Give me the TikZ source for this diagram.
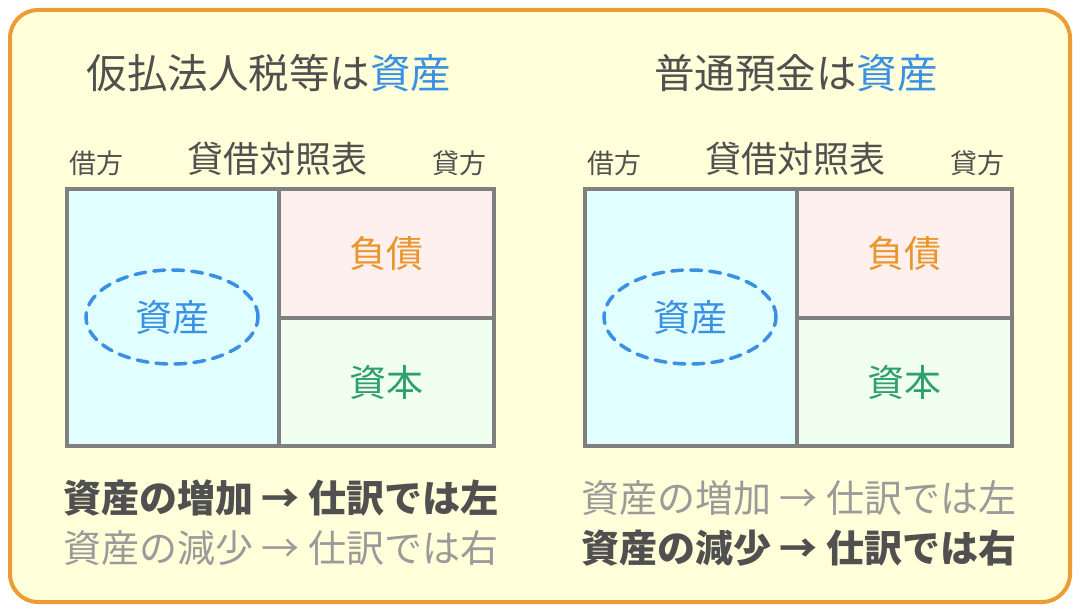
\documentclass[tikz,border=0pt]{standalone}
\usepackage{fontspec}
\setmainfont{Noto Sans CJK JP}
\usetikzlibrary{shapes.geometric, positioning}
\definecolor{ink}{HTML}{505050}
\definecolor{faint}{HTML}{9A9A9A}
\definecolor{asset}{HTML}{3A90E4}
\definecolor{debt}{HTML}{E9962C}
\definecolor{capital}{HTML}{2EA06C}
\definecolor{frameline}{HTML}{EB9D34}
\definecolor{framefill}{HTML}{FFFFD9}
\definecolor{cellblue}{HTML}{E2FFFF}
\definecolor{cellpink}{HTML}{FFF0F0}
\definecolor{cellgreen}{HTML}{F0FFF0}

\begin{document}
\begin{tikzpicture}[x=1pt, y=-1pt,
      title/.style={text=ink, inner sep=0pt, font=\fontsize{40.5}{46}\selectfont},
      head/.style={text=ink, inner sep=0pt, font=\fontsize{36}{42}\selectfont},
      side/.style={text=ink, inner sep=0pt, font=\fontsize{27}{31}\selectfont},
      cell/.style={draw=gray, line width=4pt, anchor=north west, inner sep=0pt,
                   font=\fontsize{37}{42}\selectfont},
      ring/.style={draw=asset, ellipse, dash pattern=on 11pt off 8pt, line cap=round,
                   line width=3.5pt, minimum width=172pt, minimum height=94pt, inner sep=0pt,
                   text=asset, font=\fontsize{37}{42}\selectfont},
      rule/.style={anchor=west, inner sep=0pt, font=\fontsize{38}{44}\selectfont},
      on/.style={rule, text=ink, font=\fontsize{38}{44}\selectfont\bfseries},
      off/.style={rule, text=faint}]
    \useasboundingbox (0,0) rectangle (1080,612);
    \draw[frameline, fill=framefill, line width=4pt, rounded corners=28pt] (10,10) rectangle (1070,602);

    % left: tax prepayment
    \node[title] (titleL) at (269,73) {仮払法人税等は{\color{asset}資産}};
    \node[head] (bsL) at (277,159) {貸借対照表};
    \node[side] (drL) at (96,163) {借方};
    \node[side] (crL) at (459,163) {貸方};
    \node[cell, fill=cellblue, minimum width=212pt, minimum height=257pt] (assetL) at (65,187) {};
    \node[cell, fill=cellpink, text=debt, minimum width=215pt, minimum height=129pt] (debtL) at (277,187) {負債};
    \node[cell, fill=cellgreen, text=capital, minimum width=215pt, minimum height=128pt] (capL) at (277,316) {資本};
    \node[ring] (ringL) at (172,317) {資産};
    \node[on] (incL) at (63,498) {資産の増加 → 仕訳では左};
    \node[off] (decL) at (63,548) {資産の減少 → 仕訳では右};

    % right: ordinary deposit
    \node[title] (titleR) at (796,73) {普通預金は{\color{asset}資産}};
    \node[head] (bsR) at (795,159) {貸借対照表};
    \node[side] (drR) at (614,163) {借方};
    \node[side] (crR) at (977,163) {貸方};
    \node[cell, fill=cellblue, minimum width=212pt, minimum height=257pt] (assetR) at (583,187) {};
    \node[cell, fill=cellpink, text=debt, minimum width=215pt, minimum height=129pt] (debtR) at (795,187) {負債};
    \node[cell, fill=cellgreen, text=capital, minimum width=215pt, minimum height=128pt] (capR) at (795,316) {資本};
    \node[ring] (ringR) at (690,317) {資産};
    \node[off] (incR) at (581,498) {資産の増加 → 仕訳では左};
    \node[on] (decR) at (581,548) {資産の減少 → 仕訳では右};
  \end{tikzpicture}
\end{document}
